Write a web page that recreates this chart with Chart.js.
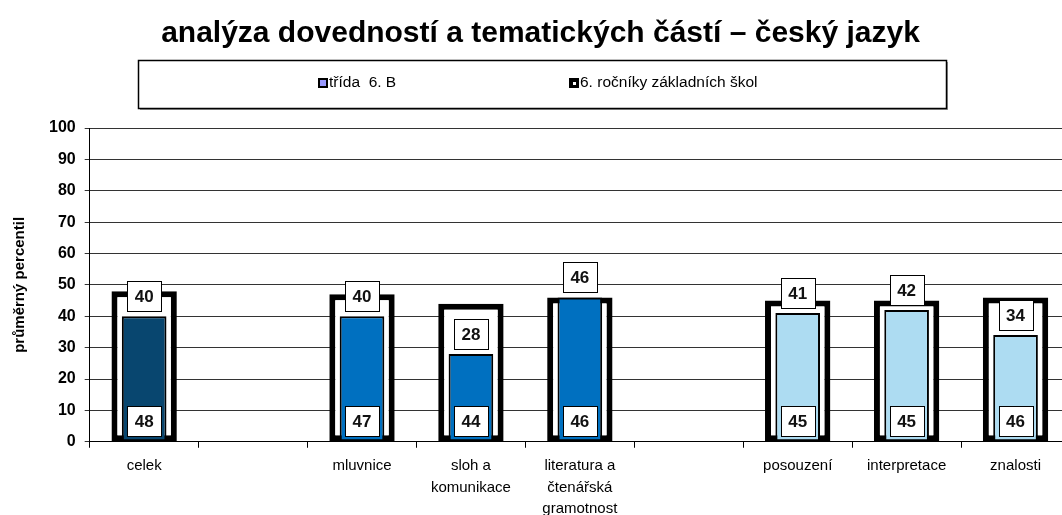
<!DOCTYPE html>
<html>
<head>
<meta charset="utf-8">
<script src="https://cdn.jsdelivr.net/npm/chart.js@4"></script>
<style>
  html, body { margin: 0; padding: 0; background: #fff; overflow: hidden; }
  #wrap { width: 1062px; height: 515px; overflow: hidden; position: relative; }
</style>
</head>
<body>
<div id="wrap"><canvas id="chart" width="1070" height="527"></canvas></div>
<script>
const FONT = "'Liberation Sans', Arial, sans-serif"

const categories = [
  'celek',
  '',
  'mluvnice',
  ['sloh a', 'komunikace'],
  ['literatura a', 'čtenářská', 'gramotnost'],
  '',
  'posouzení',
  'interpretace',
  'znalosti',
]
const tridaValues = [40, null, 40, 28, 46, null, 41, 42, 34]
const narodniValues = [48, null, 47, 44, 46, null, 45, 45, 46]
const tridaColors = ['#08466f', null, '#0070c0', '#0070c0', '#0070c0', null, '#addcf2', '#addcf2', '#addcf2']
const yTicks = [0, 10, 20, 30, 40, 50, 60, 70, 80, 90, 100]

Chart.defaults.color = '#000000'
Chart.defaults.font.family = FONT

// white boxes with the values: class on top of its bar, schools at the base
const valueBoxes = {
  id: 'valueBoxes',
  afterDatasetsDraw: function (chart) {
    const { ctx } = chart
    const w = 34
    const h = 30
    ctx.save()
    ctx.font = "bold 17px " + FONT
    ctx.textAlign = 'center'
    ctx.textBaseline = 'middle'
    chart.data.datasets.forEach(function (ds, di) {
      const meta = chart.getDatasetMeta(di)
      meta.data.forEach(function (el, i) {
        const v = ds.data[i]
        if (v === null || v === undefined) return
        const bottom = di === 0 ? el.y - 5 : el.base - 5
        const cx = el.x
        const top = bottom - h
        ctx.fillStyle = '#ffffff'
        ctx.fillRect(Math.round(cx - w / 2) + 0.5, Math.round(top) + 0.5, w, h)
        ctx.strokeStyle = '#000000'
        ctx.lineWidth = 1
        ctx.strokeRect(Math.round(cx - w / 2) + 0.5, Math.round(top) + 0.5, w, h)
        ctx.fillStyle = '#111111'
        ctx.fillText(String(v), cx, top + h / 2 + 1)
      })
    })
    ctx.restore()
  },
}

// framed legend under the title
const boxLegend = {
  id: 'boxLegend',
  afterDraw: function (chart, args, opts) {
    const { ctx } = chart
    const { left, top, width, height } = opts
    ctx.save()
    ctx.fillStyle = '#9a9a9a'
    ctx.fillRect(left + 2, top + 2, width, height)
    ctx.fillStyle = '#ffffff'
    ctx.fillRect(left, top, width, height)
    ctx.strokeStyle = '#000000'
    ctx.lineWidth = 1.5
    ctx.strokeRect(left + 0.5, top + 0.5, width, height)

    const cy = top + height / 2 - 1
    ctx.font = "15.5px " + FONT
    ctx.textBaseline = 'middle'
    ctx.textAlign = 'left'
    const names = chart.data.datasets.map(d => d.label)

    // item 1: lavender square with dark frame
    let x = opts.items[0]
    ctx.fillStyle = '#000000'
    ctx.fillRect(x, cy - 5, 10, 10)
    ctx.fillStyle = '#9999ff'
    ctx.fillRect(x + 2, cy - 3, 6, 6)
    ctx.fillStyle = '#000000'
    ctx.fillText(names[0], x + 11, cy)

    // item 2: black square with white dot
    x = opts.items[1]
    ctx.fillStyle = '#000000'
    ctx.fillRect(x, cy - 5, 10, 10)
    ctx.fillStyle = '#ffffff'
    ctx.fillRect(x + 4, cy - 1, 3, 3)
    ctx.fillStyle = '#000000'
    ctx.fillText(names[1], x + 11, cy)
    ctx.restore()
  },
}

Chart.register(valueBoxes, boxLegend)

new Chart(document.getElementById('chart'), {
  type: 'bar',
  data: {
    labels: categories,
    datasets: [
      {
        label: 'třída  6. B',
        data: tridaValues,
        backgroundColor: tridaColors,
        borderColor: '#000000',
        borderWidth: 2,
        borderSkipped: false,
        grouped: false,
        categoryPercentage: 1,
        barPercentage: 0.41,
      },
      {
        label: '6. ročníky základních škol',
        data: narodniValues,
        backgroundColor: '#ffffff',
        borderColor: '#000000',
        borderWidth: 6,
        borderSkipped: false,
        grouped: false,
        categoryPercentage: 1,
        barPercentage: 0.6,
      },
    ],
  },
  options: {
    responsive: false,
    animation: false,
    layout: {
      padding: { left: 11, right: 0, top: 0, bottom: 0 },
    },
    plugins: {
      legend: { display: false },
      tooltip: { enabled: false },
      title: {
        display: true,
        text: 'analýza dovedností a tematických částí – český jazyk',
        color: '#000000',
        font: { size: 30, weight: 'bold' },
        padding: { top: 16, bottom: 76 },
      },
      boxLegend: {
        left: 138,
        top: 60,
        width: 808,
        height: 48,
        items: [318, 569],
      },
    },
    scales: {
      x: {
        offset: true,
        border: { display: true, color: '#000000', width: 1 },
        grid: {
          display: true,
          offset: true,
          drawOnChartArea: false,
          drawTicks: true,
          tickLength: 6,
          color: '#000000',
        },
        ticks: {
          maxRotation: 0,
          autoSkip: false,
          padding: 7,
          color: '#000000',
          font: { size: 15, lineHeight: 1.45 },
        },
      },
      y: {
        min: 0,
        max: 100,
        afterBuildTicks: function (axis) {
          axis.ticks = yTicks.map(v => ({ value: v }))
        },
        border: { display: true, color: '#000000', width: 1 },
        grid: {
          color: '#333333',
          lineWidth: 1,
          drawTicks: true,
          tickLength: 5,
        },
        ticks: {
          padding: 9,
          color: '#000000',
          font: { size: 16, weight: 'bold' },
        },
        title: {
          display: true,
          text: 'průměrný percentil',
          color: '#000000',
          font: { size: 15, weight: 'bold' },
          padding: { top: 0, bottom: 11 },
        },
      },
    },
  },
})
</script>
</body>
</html>
